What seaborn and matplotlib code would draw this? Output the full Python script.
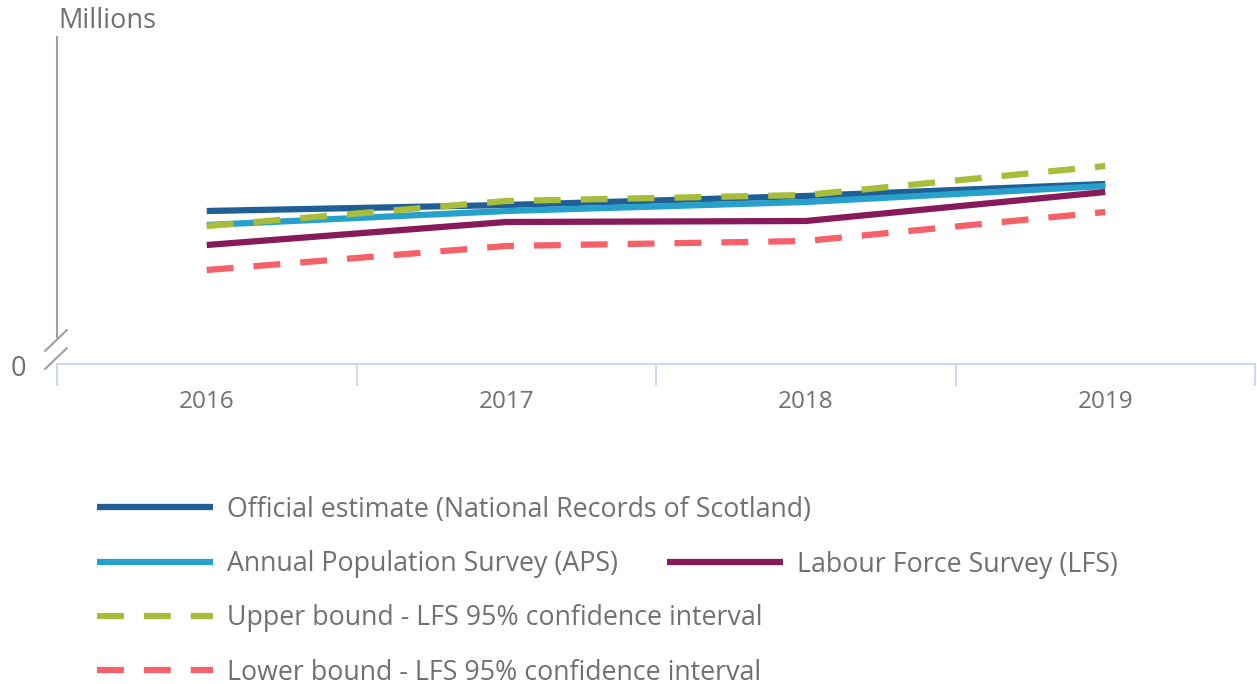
import numpy as np
import pandas as pd
import matplotlib
matplotlib.use("Agg")
import matplotlib.pyplot as plt
from matplotlib.lines import Line2D
import seaborn as sns

# === Data (millions) ===
years = ["2016", "2017", "2018", "2019"]
official = [5.400, 5.412, 5.430, 5.454]
aps = [5.372, 5.400, 5.418, 5.450]
lfs = [5.332, 5.378, 5.380, 5.438]
upper = [5.370, 5.420, 5.432, 5.490]
lower = [5.282, 5.330, 5.340, 5.398]

labels = [
    "Official estimate (National Records of Scotland)",
    "Annual Population Survey (APS)",
    "Labour Force Survey (LFS)",
    "Upper bound - LFS 95% confidence interval",
    "Lower bound - LFS 95% confidence interval",
]
colors = ["#1f5f96", "#27a0cc", "#871a5b", "#a8bd3a", "#f66068"]
series = [official, aps, lfs, upper, lower]
dashed = [False, False, False, True, True]

sns.set_style("white")
plt.rcParams["font.family"] = ["Open Sans", "DejaVu Sans"]
text_col = "#707070"
axis_col = "#cdd9ee"

fig = plt.figure(figsize=(12.57, 6.84), dpi=100)
W, H = 1257, 684
ax = fig.add_axes([57 / W, 1 - 364 / H, (1255 - 57) / W, (364 - 37) / H])

x = np.arange(len(years))
lw = 4.5
dash = (4.3, 3.2)
handles = []
for vals, lab, col, d in zip(series, labels, colors, dashed):
    df = pd.DataFrame({"x": x, "y": vals})
    kw = dict(linestyle=(0, dash)) if d else {}
    sns.lineplot(data=df, x="x", y="y", color=col, linewidth=lw, ax=ax,
                 solid_capstyle="butt", dash_capstyle="butt", **kw)
    handles.append(Line2D([], [], color=col, linewidth=lw,
                          solid_capstyle="butt", dash_capstyle="butt",
                          **kw))

ax.set_xlim(-0.5, 3.5)
ax.set_ylim(5.094, 5.748)
ax.set_xlabel("")
ax.set_ylabel("")

# x axis: labels at centres, tick marks at band boundaries
ax.set_xticks(x)
ax.set_xticklabels(years)
ax.set_xticks(np.arange(-0.5, 4.0, 1.0), minor=True)
ax.tick_params(axis="x", which="major", bottom=True, length=0, pad=19,
               labelsize=17.5, labelcolor=text_col)
ax.tick_params(axis="x", which="minor", bottom=True, length=16, width=1.5,
               color=axis_col, direction="out")
ax.set_yticks([])

for s in ["top", "right"]:
    ax.spines[s].set_visible(False)
ax.spines["bottom"].set_color(axis_col)
ax.spines["bottom"].set_linewidth(1.5)
ax.spines["left"].set_color("#a0a0a0")
ax.spines["left"].set_linewidth(1.5)
ax.spines["left"].set_bounds(5.148, 5.748)

# axis break slashes
for (x0, y0, x1, y1) in [(45, 351, 67, 330), (45, 369, 67, 348)]:
    fig.add_artist(Line2D([x0 / W, x1 / W], [1 - y0 / H, 1 - y1 / H],
                          color="#a0a0a0", linewidth=1.5))

fig.text(58 / W, 1 - 21 / H, "Millions", color=text_col, fontsize=19.5,
         va="center", ha="left")
fig.text(18 / W, 1 - 369 / H, "0", color=text_col, fontsize=19.5,
         va="center", ha="center")

# legend: one column plus LFS on the second row
order = [0, 1, 3, 4]
leg1 = fig.legend([handles[i] for i in order], [labels[i] for i in order],
                  loc="upper left", bbox_to_anchor=(86 / W, 1 - 485 / H),
                  frameon=False, fontsize=19.3, labelcolor=text_col,
                  handlelength=4.35, handletextpad=0.5, labelspacing=0.98,
                  borderaxespad=0)
leg2 = fig.legend([handles[2]], [labels[2]],
                  loc="upper left", bbox_to_anchor=(656 / W, 1 - 540 / H),
                  frameon=False, fontsize=19.3, labelcolor=text_col,
                  handlelength=4.35, handletextpad=0.5, borderaxespad=0)

fig.savefig("out.png", dpi=100)
